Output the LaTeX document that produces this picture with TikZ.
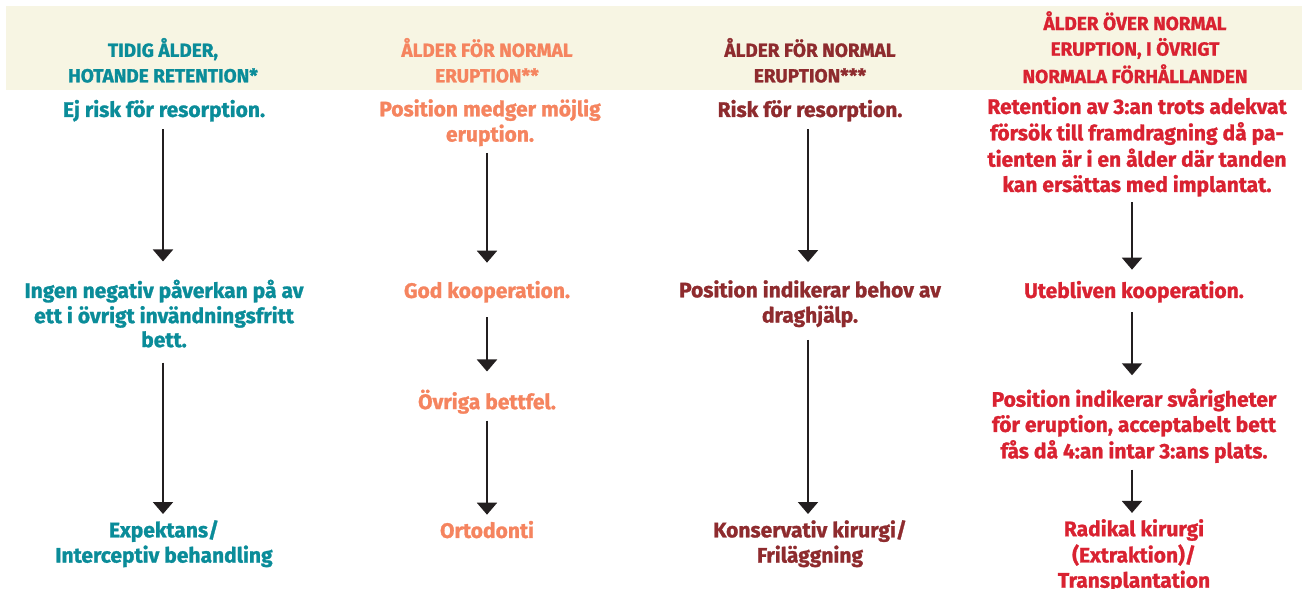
\documentclass[tikz,border=0pt]{standalone}
\usepackage{fontspec}
\setmainfont{Fira Sans}[BoldFeatures={FakeBold=1.2}]
\usetikzlibrary{arrows.meta}
\definecolor{cteal}{HTML}{0A8C99}
\definecolor{csalmon}{HTML}{F5845F}
\definecolor{cmaroon}{HTML}{8E2B2E}
\definecolor{cred}{HTML}{D92231}
\definecolor{cbeige}{HTML}{F7F5E3}
\definecolor{carrow}{HTML}{231F20}
\begin{document}
\begin{tikzpicture}[x=1pt,y=-1pt,
  txt/.style={align=center, inner sep=0pt, font=\bfseries\fontsize{21}{24}\selectfont},
  hdr/.style={align=center, inner sep=0pt, font=\bfseries\fontsize{19}{25.5}\selectfont},
  arr/.style={-{Triangle[width=20pt,length=12pt]}, line width=2pt, draw=carrow}]
\useasboundingbox (0,0) rectangle (1302,589);
\fill[cbeige] (6,6) rectangle (1302,90);
% headers
\node[hdr, text=cteal] (h1) at (163,64) {\strut TIDIG ÅLDER,\\\strut HOTANDE RETENTION*};
\node[hdr, text=csalmon] (h2) at (487,64) {\strut ÅLDER FÖR NORMAL\\\strut ERUPTION**};
\node[hdr, text=cmaroon] (h3) at (810,64) {\strut ÅLDER FÖR NORMAL\\\strut ERUPTION***};
\node[hdr, text=cred] (h4) at (1135,51) {\strut ÅLDER ÖVER NORMAL\\\strut ERUPTION, I ÖVRIGT\\\strut NORMALA FÖRHÅLLANDEN};
% column 1
\node[txt, text=cteal] (a1) at (164,112) {\strut Ej risk för resorption.};
\node[txt, text=cteal] (a2) at (164,317) {\strut Ingen negativ påverkan på av\\\strut ett i övrigt invändningsfritt\\\strut bett.};
\node[txt, text=cteal] (a3) at (164,545) {\strut Expektans/\\\strut Interceptiv behandling};
% column 2
\node[txt, text=csalmon] (b1) at (490,124) {\strut Position medger möjlig\\\strut eruption.};
\node[txt, text=csalmon] (b2) at (487,293) {\strut God kooperation.};
\node[txt, text=csalmon] (b3) at (487,403) {\strut Övriga bettfel.};
\node[txt, text=csalmon] (b4) at (487,533) {\strut Ortodonti};
% column 3
\node[txt, text=cmaroon] (c1) at (810,112) {\strut Risk för resorption.};
\node[txt, text=cmaroon] (c2) at (810,305) {\strut Position indikerar behov av\\\strut draghjälp.};
\node[txt, text=cmaroon] (c3) at (810,545) {\strut Konservativ kirurgi/\\\strut Friläggning};
% column 4
\node[txt, text=cred] (d1) at (1137,148) {\strut Retention av 3:an trots adekvat\\\strut försök till framdragning då pa-\\\strut tienten är i en ålder där tanden\\\strut kan ersättas med implantat.};
\node[txt, text=cred] (d2) at (1134,293) {\strut Utebliven kooperation.};
\node[txt, text=cred] (d3) at (1134,427) {\strut Position indikerar svårigheter\\\strut för eruption, acceptabelt bett\\\strut fås då 4:an intar 3:ans plats.};
\node[txt, text=cred] (d4) at (1134,557) {\strut Radikal kirurgi\\\strut (Extraktion)/\\\strut Transplantation};
% arrows
\draw[arr, shorten <=5pt, shorten >=18pt] (a1.south -| 163,0) -- (a2.north -| 163,0);
\draw[arr, shorten <=8pt, shorten >=6pt] (a2.south -| 163,0) -- (a3.north -| 163,0);
\draw[arr, shorten <=4pt, shorten >=18pt] (b1.south -| 487,0) -- (b2.north -| 487,0);
\draw[arr, shorten <=12pt, shorten >=18pt] (b2.south -| 487,0) -- (b3.north -| 487,0);
\draw[arr, shorten <=4pt, shorten >=6pt] (b3.south -| 487,0) -- (b4.north -| 487,0);
\draw[arr, shorten <=5pt, shorten >=18pt] (c1.south -| 808,0) -- (c2.north -| 808,0);
\draw[arr, shorten <=10pt, shorten >=6pt] (c2.south -| 808,0) -- (c3.north -| 808,0);
\draw[arr, shorten <=3pt, shorten >=11pt] (d1.south -| 1132,0) -- (d2.north -| 1132,0);
\draw[arr, shorten <=7pt, shorten >=13pt] (d2.south -| 1132,0) -- (d3.north -| 1132,0);
\draw[arr, shorten <=4pt, shorten >=6pt] (d3.south -| 1132,0) -- (d4.north -| 1132,0);
\end{tikzpicture}
\end{document}
